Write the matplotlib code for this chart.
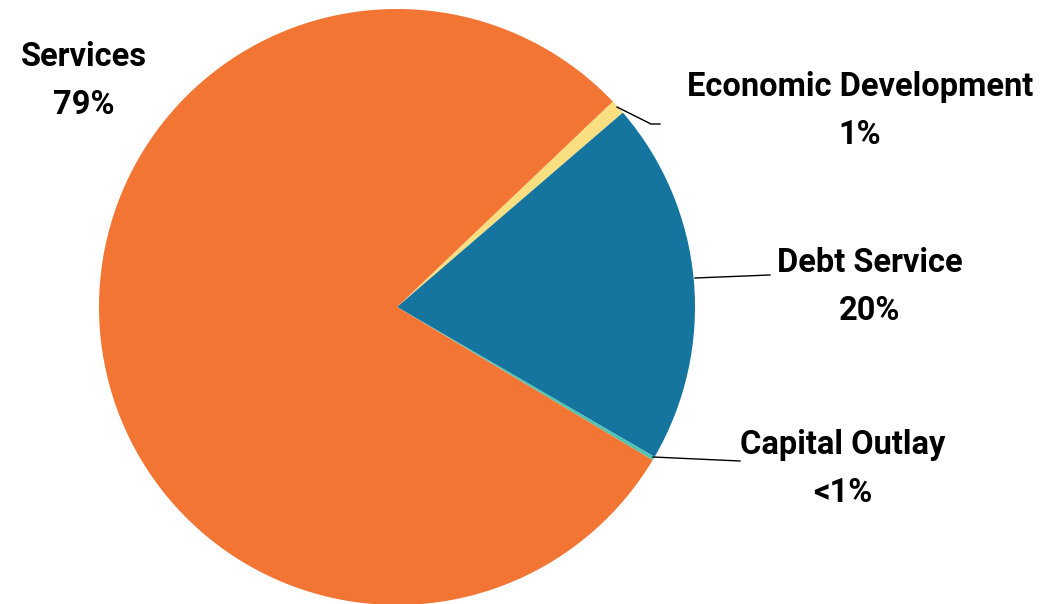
import matplotlib
matplotlib.use("Agg")
import matplotlib.pyplot as plt
from matplotlib import font_manager

categories = ["Economic Development", "Debt Service", "Capital Outlay", "Services"]
values = [0.8, 19.7, 0.2, 79.3]
pct_labels = ["1%", "20%", "<1%", "79%"]
colors = ["#FADF80", "#15759E", "#4EC3B0", "#F37534"]

names = {f.name for f in font_manager.fontManager.ttflist}
fam = [f for f in ["Roboto", "DejaVu Sans"] if f in names]

W, H = 1040, 604
fig = plt.figure(figsize=(W / 100, H / 100), dpi=100)
ax = fig.add_axes([0, 0, 1, 1])
ax.set_xlim(0, W)
ax.set_ylim(0, H)
ax.set_aspect("equal")
ax.axis("off")

cx, cy, r = 397, H - 307, 298
ax.pie(values, colors=colors, startangle=43.6, counterclock=False,
       center=(cx, cy), radius=r, frame=False,
       wedgeprops=dict(linewidth=0))
ax.set_xlim(0, W)
ax.set_ylim(0, H)

# label positions (pixels, top-left origin) and leader lines
label_pos = {
    "Economic Development": (860, 111),
    "Debt Service": (870, 287),
    "Capital Outlay": (843, 469),
    "Services": (84, 81),
}
leaders = {
    "Economic Development": [(617, 107), (651, 124), (660, 124)],
    "Debt Service": [(695, 278), (770, 275)],
    "Capital Outlay": [(653, 457), (740, 461)],
}
for cat, pct in zip(categories, pct_labels):
    x, y = label_pos[cat]
    ax.text(x, H - y, f"{cat}\n{pct}", ha="center", va="center",
            fontsize=23.5, fontweight="bold", family=fam, color="black",
            linespacing=1.64)
    if cat in leaders:
        pts = leaders[cat]
        ax.plot([p[0] for p in pts], [H - p[1] for p in pts], color="black", lw=1)

fig.savefig("out.png", dpi=100)
